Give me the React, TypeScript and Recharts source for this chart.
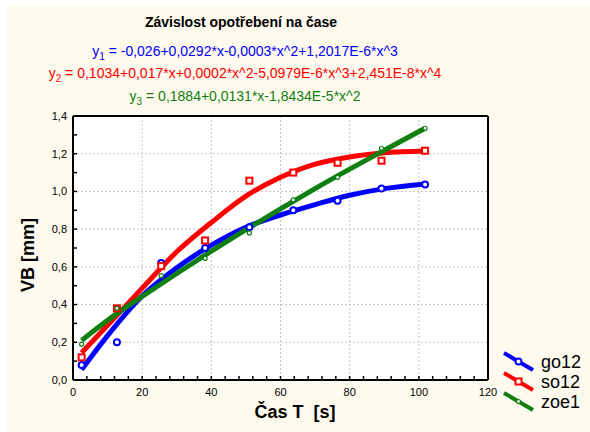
import React from 'react';
import { ComposedChart, Line, Scatter, XAxis, YAxis, CartesianGrid } from 'recharts';

// measured points (x = time in s)
const timePts = [2.5, 12.7, 25.5, 38.2, 51, 63.7, 76.5, 89.2, 101.8];
const go12Pts = [0.08, 0.2, 0.62, 0.7, 0.81, 0.9, 0.95, 1.015, 1.037];
const so12Pts = [0.12, 0.38, 0.604, 0.74, 1.057, 1.1, 1.152, 1.163, 1.216];
const zoe1Pts = [0.19, 0.38, 0.553, 0.645, 0.78, 0.955, 1.075, 1.229, 1.335];

// fitted curves
const fitTime = [2.5, 10, 20, 30, 40, 50, 60, 70, 80, 90, 101.8];
const go12Fit = [0.055, 0.235, 0.445, 0.595, 0.715, 0.81, 0.875, 0.93, 0.98, 1.015, 1.04];
const so12Fit = [0.145, 0.29, 0.487, 0.68, 0.835, 0.975, 1.075, 1.145, 1.183, 1.205, 1.215];
const zoe1Fit = [0.21, 0.317, 0.443, 0.565, 0.683, 0.797, 0.908, 1.015, 1.118, 1.218, 1.335];

const xTicks = [0, 4, 8, 12, 16, 20, 24, 28, 32, 36, 40, 44, 48, 52, 56, 60, 64, 68, 72, 76, 80, 84, 88, 92, 96, 100, 104, 108, 112, 116, 120];
const yTicks = [0, 0.1, 0.2, 0.3, 0.4, 0.5, 0.6, 0.7, 0.8, 0.9, 1.0, 1.1, 1.2, 1.3, 1.4];
const xGrid = [20, 40, 60, 80, 100];
const yGrid = [0.2, 0.4, 0.6, 0.8, 1.0, 1.2];

const BLUE = '#0000ff';
const RED = '#ff0000';
const GREEN = '#0f7f0f';
const FONT = '"Liberation Sans", Arial, sans-serif';

const toRows = (xs: number[], ys: number[]) => xs.map((x, i) => ({ x, y: ys[i] }));

const series = [
  { name: 'go12', color: BLUE, pts: go12Pts, fit: go12Fit, marker: 'circle' },
  { name: 'so12', color: RED, pts: so12Pts, fit: so12Fit, marker: 'square' },
  { name: 'zoe1', color: GREEN, pts: zoe1Pts, fit: zoe1Fit, marker: 'dot' },
];

const Marker = ({ cx, cy, kind, color }: any) => {
  if (cx == null || cy == null) return null;
  if (kind === 'square')
    return <rect x={cx - 3} y={cy - 3} width={6} height={6} fill="#fff" stroke={color} strokeWidth={2} />;
  if (kind === 'circle')
    return <circle cx={cx} cy={cy} r={3} fill="#fff" stroke={color} strokeWidth={2} />;
  return <circle cx={cx} cy={cy} r={2} fill="#fff" stroke={color} strokeWidth={1.2} />;
};

const xLabel = (v: number) => (v % 20 === 0 ? String(v) : '');
const yLabel = (v: number) => (Math.round(v * 10) % 2 === 0 ? v.toFixed(1).replace('.', ',') : '');

const tickStyle = { fontSize: 11, fill: '#000', fontFamily: FONT };
const axisLine = { stroke: '#000', strokeWidth: 2 };
const tickLine = { stroke: '#000', strokeWidth: 1.5 };

const Eq = ({ top, color, sub, text }: any) => (
  <div style={{ position: 'absolute', top, left: 0, width: 490, textAlign: 'center', color, fontSize: 14, lineHeight: '16px' }}>
    y<sub style={{ fontSize: 10 }}>{sub}</sub> = {text}
  </div>
);

export default function App() {
  return (
    <div style={{ position: 'absolute', left: 0, top: 0, width: 590, height: 432, background: '#fff', fontFamily: FONT }}>
      <div style={{ position: 'absolute', left: 7, top: 6, width: 583, height: 426, background: '#fefaee' }} />

      <div style={{ position: 'absolute', top: 13, left: 0, width: 482, textAlign: 'center', fontSize: 14, fontWeight: 'bold', lineHeight: '18px' }}>
        Závislost opotřebení na čase
      </div>
      <Eq top={43} color={BLUE} sub="1" text="-0,026+0,0292*x-0,0003*x^2+1,2017E-6*x^3" />
      <Eq top={65} color={RED} sub="2" text="0,1034+0,017*x+0,0002*x^2-5,0979E-6*x^3+2,451E-8*x^4" />
      <Eq top={88} color={GREEN} sub="3" text="0,1884+0,0131*x-1,8434E-5*x^2" />

      <div style={{ position: 'absolute', left: 0, top: 0 }}>
        <ComposedChart width={590} height={432} margin={{ top: 115, right: 101, bottom: 2, left: 33 }}>
          <CartesianGrid
            fill="#fff"
            stroke="#c4c4c4"
            strokeDasharray="2 2"
            verticalValues={xGrid}
            horizontalValues={yGrid}
          />
          <XAxis
            dataKey="x"
            type="number"
            domain={[0, 120]}
            ticks={xTicks}
            interval={0}
            tickFormatter={xLabel}
            tick={tickStyle}
            tickSize={-4}
            tickMargin={12}
            height={50}
            axisLine={axisLine}
            tickLine={tickLine}
          />
          <XAxis
            xAxisId="top"
            orientation="top"
            type="number"
            domain={[0, 120]}
            ticks={xTicks}
            interval={0}
            tick={false}
            tickSize={-4}
            height={1}
            axisLine={axisLine}
            tickLine={tickLine}
          />
          <YAxis
            dataKey="y"
            type="number"
            domain={[0, 1.4]}
            ticks={yTicks}
            interval={0}
            tickFormatter={yLabel}
            tick={tickStyle}
            tickSize={-4}
            tickMargin={10}
            width={40}
            axisLine={axisLine}
            tickLine={tickLine}
          />
          <YAxis
            yAxisId="right"
            orientation="right"
            type="number"
            domain={[0, 1.4]}
            ticks={yTicks}
            interval={0}
            tick={false}
            tickSize={-4}
            width={1}
            axisLine={axisLine}
            tickLine={tickLine}
          />
          {series.map((s) => (
            <Line
              key={s.name + '-fit'}
              data={toRows(fitTime, s.fit)}
              dataKey="y"
              type="monotone"
              stroke={s.color}
              strokeWidth={5}
              dot={false}
              isAnimationActive={false}
            />
          ))}
          {series.map((s) => (
            <Scatter
              key={s.name + '-pts'}
              data={toRows(timePts, s.pts)}
              dataKey="y"
              isAnimationActive={false}
              shape={(p: any) => <Marker cx={p.cx} cy={p.cy} kind={s.marker} color={s.color} />}
            />
          ))}
        </ComposedChart>
      </div>

      <div style={{ position: 'absolute', left: 28, top: 255, transform: 'translate(-50%, -50%) rotate(-90deg)', fontSize: 18, fontWeight: 'bold', whiteSpace: 'nowrap' }}>
        VB [mm]
      </div>
      <div style={{ position: 'absolute', left: 95, top: 402, width: 400, textAlign: 'center', fontSize: 18, fontWeight: 'bold', whiteSpace: 'pre' }}>
        {'Čas T  [s]'}
      </div>

      {series.map((s, i) => (
        <div key={s.name} style={{ position: 'absolute', left: 502, top: 351 + i * 20, height: 22, display: 'flex', alignItems: 'center' }}>
          <svg width={34} height={22}>
            <line x1={2} y1={2} x2={31} y2={19} stroke={s.color} strokeWidth={4} />
            <Marker cx={16.5} cy={10.5} kind={s.marker} color={s.color} />
          </svg>
          <span style={{ marginLeft: 5, fontSize: 18 }}>{s.name}</span>
        </div>
      ))}
    </div>
  );
}
